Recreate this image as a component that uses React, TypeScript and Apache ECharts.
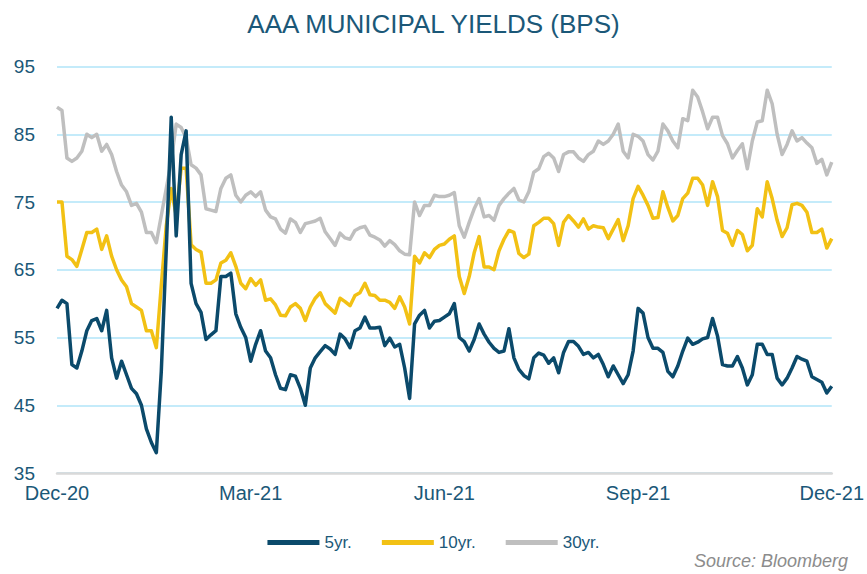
import React, { useEffect, useRef } from "react";
import * as echarts from "echarts";

const tickLabels = ["Dec-20", "Mar-21", "Jun-21", "Sep-21", "Dec-21"];
const seriesNames = ["5yr.", "10yr.", "30yr."];

const yr5 = [
  59.3, 60.5, 60, 51, 50.5, 53, 56, 57.5, 57.8, 56, 59, 52, 49, 51.5, 49.5, 47.5, 46.7, 45, 41.5, 39.5,
  38, 50, 68, 87.5, 70, 82, 85.5, 63, 60, 58.7, 54.7, 55.4, 56, 64, 64, 64.5, 58.5, 56.5, 55, 51.5,
  54, 56, 53, 52, 49.5, 47.5, 47.3, 49.5, 49.3, 47.5, 45, 50.5, 52, 52.9, 53.8, 53.3, 52.5, 55.5, 54.8, 53.5,
  56, 56.4, 58, 56.4, 56.4, 56.5, 53.8, 54.9, 53.6, 54, 50.5, 46, 57, 58.3, 59, 56.4, 57.4, 57.5, 58, 58.5,
  60, 55, 54.4, 53, 54.7, 57, 55.5, 54.3, 53.4, 52.8, 53, 56.3, 52, 50.3, 49.4, 48.9, 52, 52.7, 52.4, 51.2,
  52, 49.8, 52.8, 54.4, 54.4, 53.7, 52.5, 52.8, 52, 52.5, 51, 49.2, 50.8, 49.5, 48.2, 49.5, 53, 59.3, 58.6, 55,
  53.4, 53.4, 52.8, 50, 49.2, 50.8, 53, 54.9, 54, 54.3, 54.8, 55, 57.8, 55.2, 51, 50.8, 50.8, 52.2, 50.5, 48,
  49.5, 54, 54, 52.5, 52.5, 49, 48, 49, 50.5, 52.2, 51.8, 51.5, 49.2, 48.8, 48.4, 46.8, 47.8,
];

const yr10 = [
  75, 75, 67, 66.5, 65.5, 68, 70.5, 70.5, 71, 68, 70, 67, 65, 63.5, 62.5, 60, 59.5, 59, 56, 56,
  53.5, 62.7, 71.5, 77, 73, 80, 80, 68.7, 68, 67.6, 63, 63, 63.5, 66, 66.4, 67.5, 65.5, 63, 62.2, 63.7,
  62.7, 63.5, 60.5, 60.7, 59.8, 58.3, 58.2, 59.5, 60, 59.3, 57.5, 59.5, 60.8, 61.6, 60, 59.3, 58.6, 60.8, 60.3, 59.7,
  61.2, 61.6, 63, 61.3, 61.2, 60.5, 60.5, 60.2, 59.3, 61, 59.5, 57, 67, 66, 67.5, 66.8, 68, 68.6, 68.8, 69.5,
  70, 64, 61.5, 64, 67.5, 69.9, 65.4, 65.4, 65, 67.8, 69.5, 70.8, 70.5, 67.4, 66.8, 67.3, 71.5, 72, 72.6, 72.6,
  71.8, 68.6, 72, 73, 72.2, 71.3, 72.5, 71, 71.5, 71.3, 71.2, 69.6, 71, 72.4, 69.3, 71.5, 75.5, 77.3, 76, 74.5,
  72.6, 72.7, 76.5, 74.2, 72.2, 73, 75.5, 76.3, 78.5, 78.5, 77.5, 74.5, 78, 75.8, 70.8, 70.4, 68.6, 70.8, 70.2, 67.8,
  68.6, 74, 72.8, 78, 75.5, 72.3, 69.9, 71.2, 74.6, 74.8, 74.5, 73.5, 70.5, 70.5, 71, 68.2, 69.6,
];

const yr30 = [
  89, 88.5, 81.5, 81, 81.5, 82.5, 85, 84.5, 85, 82.5, 83.5, 82, 79.5, 77.5, 76.5, 74.5, 74.8, 73.5, 70.5, 70.5,
  69, 73, 77, 81, 86.5, 86, 84.5, 80.5, 80, 79, 74, 73.8, 73.6, 77, 78.5, 79, 76, 75, 76, 76.5,
  75.8, 76.5, 73.8, 72.8, 72.5, 71, 70.4, 72.5, 72, 70.5, 71.8, 72, 72.2, 72.6, 70.6, 69.6, 68.6, 70.4, 69.7, 69.5,
  70.8, 71.2, 71.4, 70.1, 69.8, 69.4, 68.5, 69.3, 68.7, 67.8, 67.3, 67.2, 75, 73, 74.5, 74.5, 76, 75.8, 75.8, 76,
  76.4, 71.5, 69.8, 72, 74, 75.5, 72.8, 73, 72.3, 74.5, 75.5, 76.3, 77, 75.3, 75, 76.5, 79.4, 79.9, 81.7, 82.2,
  81.5, 79.5, 82, 82.4, 82.4, 81.5, 81, 82, 82.5, 84, 83.5, 84, 85, 86.5, 82.5, 81.5, 85, 84.7, 84, 82,
  81.2, 82.5, 86.5, 85.5, 84, 83, 87.3, 87, 91.5, 90.5, 88.3, 85.8, 87.5, 87.5, 84.8, 83.6, 81.5, 82.6, 83.6, 79.9,
  84, 86.8, 87, 91.5, 89.5, 85, 82, 83.5, 85.5, 84, 84.5, 83.7, 83, 80.7, 81.3, 79, 80.9,
];

const colors = ["#0b4a6b", "#f2c114", "#bfbfbf"];
const FONT = "'Liberation Sans', Arial, sans-serif";
const TEXT_COLOR = "#1b5878";

export default function App() {
  const ref = useRef<HTMLDivElement>(null);

  useEffect(() => {
    if (!ref.current) return;
    const chart = echarts.init(ref.current, undefined, { renderer: "svg" });
    const lastIndex = yr5.length - 1;
    const interval = lastIndex / (tickLabels.length - 1);
    const all = [yr5, yr10, yr30];

    chart.setOption({
      animation: false,
      backgroundColor: "#ffffff",
      title: {
        text: "AAA MUNICIPAL YIELDS (BPS)",
        left: "center",
        top: 6,
        textStyle: { fontFamily: FONT, fontSize: 26, fontWeight: "normal", color: TEXT_COLOR },
      },
      grid: { left: 57, right: 32, top: 66.5, bottom: 101, containLabel: false },
      legend: {
        bottom: 18,
        left: "center",
        itemWidth: 52,
        itemHeight: 5,
        itemGap: 30,
        icon: "rect",
        textStyle: { fontFamily: FONT, fontSize: 17, color: TEXT_COLOR },
        data: seriesNames,
      },
      xAxis: {
        type: "value",
        min: 0,
        max: lastIndex,
        interval,
        axisLine: { show: true, lineStyle: { color: "#d9d9d9", width: 2.5 } },
        axisTick: { show: false },
        splitLine: { show: false },
        axisLabel: {
          color: TEXT_COLOR,
          fontFamily: FONT,
          fontSize: 20,
          margin: 10,
          showMinLabel: true,
          showMaxLabel: true,
          formatter: (v: number) => tickLabels[Math.round(v / interval)] ?? "",
        },
        z: 5,
      },
      yAxis: {
        type: "value",
        min: 35,
        max: 95,
        interval: 10,
        axisLine: { show: false },
        axisTick: { show: false },
        axisLabel: { color: TEXT_COLOR, fontFamily: FONT, fontSize: 19, margin: 22 },
        splitLine: { lineStyle: { color: "#c4ebfa", width: 2 } },
      },
      graphic: [
        {
          type: "text",
          right: 19,
          top: 552,
          style: {
            text: "Source: Bloomberg",
            fontFamily: FONT,
            fontSize: 18,
            fontStyle: "italic",
            fill: "#8c8c8c",
          },
        },
      ],
      series: seriesNames.map((name, k) => ({
        name,
        type: "line",
        showSymbol: false,
        symbol: "none",
        color: colors[k],
        lineStyle: { color: colors[k], width: 3.5, join: "round" },
        data: all[k].map((v, i) => [i, v]),
        z: 3 + (2 - k),
      })),
    });

    return () => chart.dispose();
  }, []);

  return (
    <div
      ref={ref}
      style={{ position: "fixed", left: 0, top: 0, width: 867, height: 574, background: "#fff" }}
    />
  );
}
